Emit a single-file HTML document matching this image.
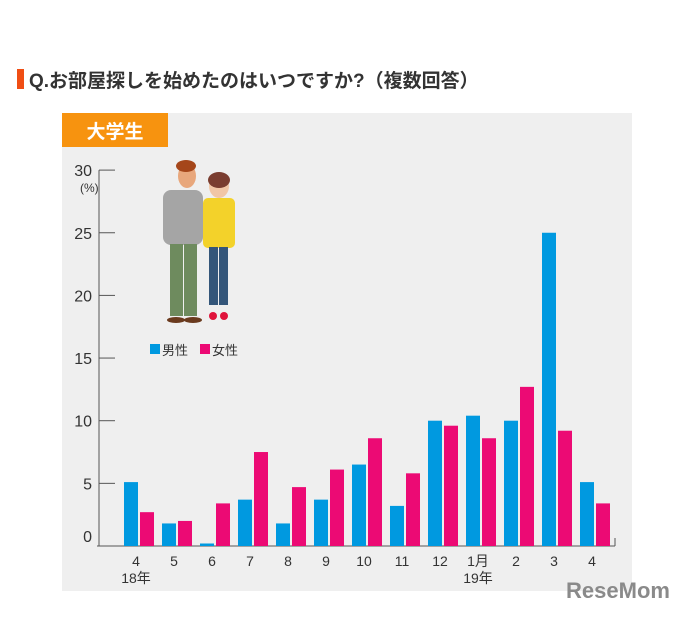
<!DOCTYPE html>
<html><head><meta charset="utf-8"><style>
body{margin:0;background:#fff;width:688px;height:612px;overflow:hidden;font-family:"Liberation Sans","Noto Sans CJK JP",sans-serif;}
</style></head><body>
<svg width="688" height="612" viewBox="0 0 688 612" xmlns="http://www.w3.org/2000/svg" font-family="Liberation Sans, Noto Sans CJK JP, sans-serif">
<rect x="17" y="69" width="7" height="20" fill="#f04e14"/>
<text x="29" y="87" font-size="19" font-weight="bold" fill="#333">Q.お部屋探しを始めたのはいつですか?（複数回答）</text>
<rect x="62" y="113" width="570" height="478" fill="#efefef"/>
<rect x="62" y="113" width="106" height="34" fill="#f7930f"/>
<text x="115" y="138" font-size="19" font-weight="bold" fill="#fff" text-anchor="middle">大学生</text>
<g>
<rect x="163" y="190" width="40" height="55" rx="8" fill="#a5a5a5"/>
<rect x="170" y="244" width="13" height="72" fill="#6e8b5e"/><rect x="184" y="244" width="13" height="72" fill="#6e8b5e"/>
<ellipse cx="176" cy="320" rx="9" ry="3" fill="#6a3a1e"/><ellipse cx="193" cy="320" rx="9" ry="3" fill="#6a3a1e"/>
<ellipse cx="187" cy="176" rx="9" ry="12" fill="#e8a77c"/><ellipse cx="186" cy="166" rx="10" ry="6" fill="#a5461a"/>
<rect x="203" y="198" width="32" height="50" rx="5" fill="#f3d22a"/>
<rect x="209" y="247" width="9" height="58" fill="#34567a"/><rect x="219" y="247" width="9" height="58" fill="#34567a"/>
<ellipse cx="213" cy="316" rx="4" ry="4" fill="#e0143c"/><ellipse cx="224" cy="316" rx="4" ry="4" fill="#e0143c"/>
<ellipse cx="219" cy="186" rx="10" ry="12" fill="#f1c6a6"/><ellipse cx="219" cy="180" rx="11" ry="8" fill="#7a3d30"/>
</g>
<rect x="150" y="344" width="10" height="10" fill="#0099e0"/>
<text x="162" y="355" font-size="13" fill="#333">男性</text>
<rect x="200" y="344" width="10" height="10" fill="#ec0a74"/>
<text x="212" y="355" font-size="13" fill="#333">女性</text>
<g id="chart"></g>
<text x="80" y="192" font-size="12" fill="#333">(%)</text>
<text x="618" y="598" font-size="22" font-weight="bold" fill="#8a8a8a" text-anchor="middle">ReseMom</text>
</svg>
<script>
const categories=["4","5","6","7","8","9","10","11","12","1月","2","3","4"];
const maleValues=[5.1,1.8,0.2,3.7,1.8,3.7,6.5,3.2,10,10.4,10,25,5.1];
const femaleValues=[2.7,2.0,3.4,7.5,4.7,6.1,8.6,5.8,9.6,8.6,12.7,9.2,3.4];
const yTicks=[0,5,10,15,20,25,30];
const NS="http://www.w3.org/2000/svg";
const g=document.getElementById('chart');
const y0=546,yScale=12.53,xL=99,xR=615,x0=139,step=38;
function yPos(v){return y0-v*yScale;}
function xPos(i){return x0+i*step;}
function mk(tag,attrs){const e=document.createElementNS(NS,tag);for(const k in attrs)e.setAttribute(k,attrs[k]);g.appendChild(e);return e;}
let e=mk('line',{x1:xL,y1:yPos(30),x2:xL,y2:y0,stroke:'#555','stroke-width':1});


e=mk('line',{x1:xL-2,y1:y0,x2:xR,y2:y0,stroke:'#555','stroke-width':1});


e=mk('line',{x1:xR,y1:y0-8,x2:xR,y2:y0,stroke:'#555','stroke-width':1});


yTicks.forEach(t=>{
 if(t>0){const l=mk('line',{x1:xL,y1:yPos(t),x2:xL+16,y2:yPos(t),stroke:'#555','stroke-width':1});
 
 }
 const tx=mk('text',{x:92,y:yPos(t)+(t==0?-4:6),'font-size':16,fill:'#333','text-anchor':'end'});
 tx.textContent=t;
 
 
});
categories.forEach((c,i)=>{
 const cx=xPos(i);
 const b=mk('rect',{x:cx-15,y:yPos(maleValues[i]),width:14,height:maleValues[i]*yScale,fill:'#0099e0'});
 
 
 const p=mk('rect',{x:cx+1,y:yPos(femaleValues[i]),width:14,height:femaleValues[i]*yScale,fill:'#ec0a74'});
 
 
 const t=mk('text',{x:cx-3,y:566,'font-size':14,fill:'#333','text-anchor':'middle'});
 t.textContent=c;
 
 
});
[[0,"18年"],[9,"19年"]].forEach(([i,s])=>{
 const t=mk('text',{x:xPos(i)-3,y:583,'font-size':14,fill:'#333','text-anchor':'middle'});
 t.textContent=s;
 
 
});
</script>
</body></html>
